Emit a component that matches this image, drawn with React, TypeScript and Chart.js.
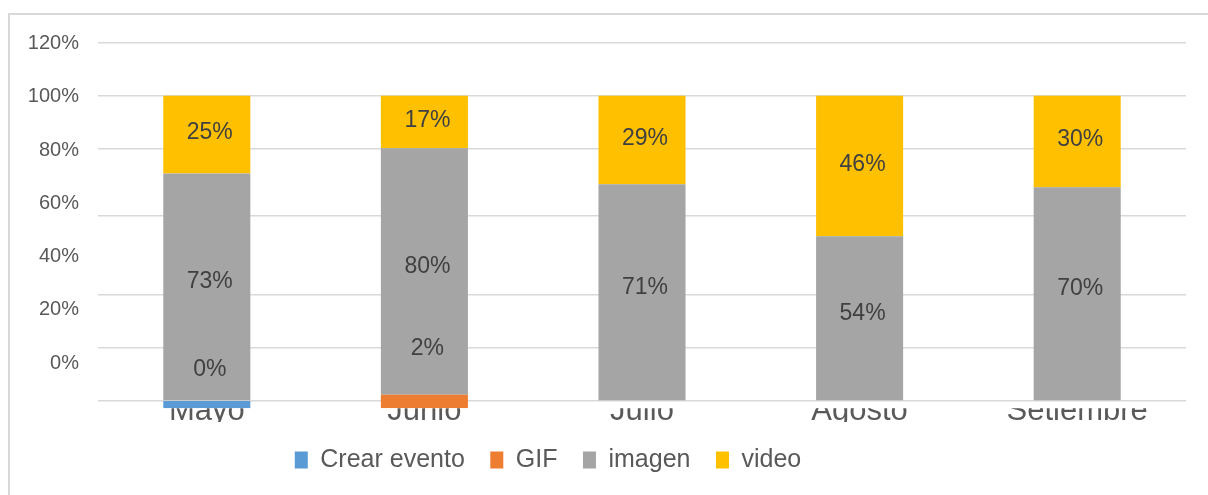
import React, { useEffect, useRef } from 'react';
import { Chart, registerables } from 'chart.js';

Chart.register(...registerables);

// ---- data ----
const categories = ['Mayo', 'Junio', 'Julio', 'Agosto', 'Setiembre'];
const crearEvento: (number | null)[] = [0, null, null, null, null];
const gif: (number | null)[] = [null, 2, null, null, null];
const imagen: (number | null)[] = [73, 80, 71, 54, 70];
const video: (number | null)[] = [25, 17, 29, 46, 30];
const seriesNames = ['Crear evento', 'GIF', 'imagen', 'video'];
const yTickLabels = [0, 20, 40, 60, 80, 100, 120];
const gridValues = [0, 17.5, 34.7, 60.7, 82.5, 100, 117.5];

// ---- style ----
const FONT = "'Liberation Sans', Arial, Helvetica, sans-serif";
const colors = ['#5B9BD5', '#ED7D31', '#A5A5A5', '#FFC000'];
const Y_MIN = -2.4;
const Y_MAX = 117.5;
const LABEL_DY = [-34.5, -52.5, -5, -1.5];
const LABEL_DX = 3;
const LEGEND_SHIFT = -59;

const rawSeries = [crearEvento, gif, imagen, video];

function normalize(series: (number | null)[][]) {
  const totals = categories.map((_, i) =>
    series.reduce((s, arr) => s + (arr[i] ?? 0), 0)
  );
  return series.map((arr) =>
    arr.map((v, i) => (v === null ? null : totals[i] ? (v / totals[i]) * 100 : 0))
  );
}

const valueLabels = {
  id: 'valueLabels',
  afterDatasetsDraw(chart: any) {
    const ctx = chart.ctx;
    ctx.save();
    ctx.font = `23px ${FONT}`;
    ctx.fillStyle = '#404040';
    ctx.textAlign = 'center';
    ctx.textBaseline = 'middle';
    chart.data.datasets.forEach((_ds: any, di: number) => {
      const meta = chart.getDatasetMeta(di);
      const raw = rawSeries[di];
      meta.data.forEach((el: any, i: number) => {
        const v = raw[i];
        if (v === null || v === undefined) return;
        const { x, y, base } = el.getProps(['x', 'y', 'base'], true);
        ctx.fillText(`${v}%`, x + LABEL_DX, (y + base) / 2 + LABEL_DY[di]);
      });
    });
    ctx.restore();
  },
};

const legendShift = {
  id: 'legendShift',
  afterLayout(chart: any) {
    if (chart.legend) {
      chart.legend.left += LEGEND_SHIFT;
      chart.legend.right += LEGEND_SHIFT;
    }
  },
};

export default function App() {
  const ref = useRef<HTMLCanvasElement | null>(null);

  useEffect(() => {
    if (!ref.current) return;
    const pct = normalize(rawSeries);
    const chart = new Chart(ref.current, {
      type: 'bar',
      data: {
        labels: categories,
        datasets: seriesNames.map((name, di) => ({
          label: name,
          data: pct[di] as any,
          backgroundColor: colors[di],
          borderWidth: 0,
          barPercentage: 0.4,
          categoryPercentage: 1,
          yAxisID: 'y',
          ...(di < 2 ? { base: Y_MIN } : {}),
        })),
      },
      options: {
        responsive: false,
        animation: false,
        events: [],
        layout: { padding: { left: 18, right: 22, top: 27.3, bottom: 12.5 } },
        plugins: {
          legend: {
            position: 'bottom',
            labels: {
              boxWidth: 13,
              boxHeight: 17,
              padding: 25.5,
              color: '#595959',
              font: { size: 25, family: FONT },
            },
          },
          tooltip: { enabled: false },
        },
        scales: {
          x: {
            stacked: true,
            grid: { display: false, drawTicks: false },
            border: { display: false },
            ticks: {
              color: '#595959',
              font: { size: 31, family: FONT },
              padding: -15,
              maxRotation: 0,
              autoSkip: false,
            },
            afterFit: (scale: any) => {
              scale.height = 13.7;
            },
          },
          y: {
            stacked: true,
            position: 'right',
            min: Y_MIN,
            max: Y_MAX,
            grid: { color: '#d9d9d9', lineWidth: 1.5, drawTicks: false },
            border: { display: false },
            ticks: { display: false },
            afterBuildTicks: (scale: any) => {
              scale.ticks = gridValues.map((v) => ({ value: v }));
            },
            afterFit: (scale: any) => {
              scale.width = 0;
              scale.paddingTop = 0;
              scale.paddingBottom = 0;
            },
          },
          yLabels: {
            type: 'linear',
            position: 'left',
            min: -16.9,
            max: 120.4,
            grid: { display: false, drawTicks: false },
            border: { display: false },
            ticks: {
              color: '#595959',
              font: { size: 20, family: FONT },
              padding: 19,
              callback: (v: any) => `${v}%`,
            },
            afterBuildTicks: (scale: any) => {
              scale.ticks = yTickLabels.map((v) => ({ value: v }));
            },
            afterFit: (scale: any) => {
              scale.width = 70;
              scale.paddingTop = 0;
              scale.paddingBottom = 0;
            },
          },
        },
      } as any,
      plugins: [valueLabels, legendShift],
    });
    return () => chart.destroy();
  }, []);

  return (
    <div
      style={{
        position: 'fixed',
        left: 8,
        top: 13,
        right: 0,
        bottom: 0,
        borderTop: '2px solid #d9d9d9',
        borderLeft: '2px solid #d9d9d9',
        background: '#fff',
      }}
    >
      <canvas ref={ref} width={1198} height={480} style={{ display: 'block' }} />
    </div>
  );
}
